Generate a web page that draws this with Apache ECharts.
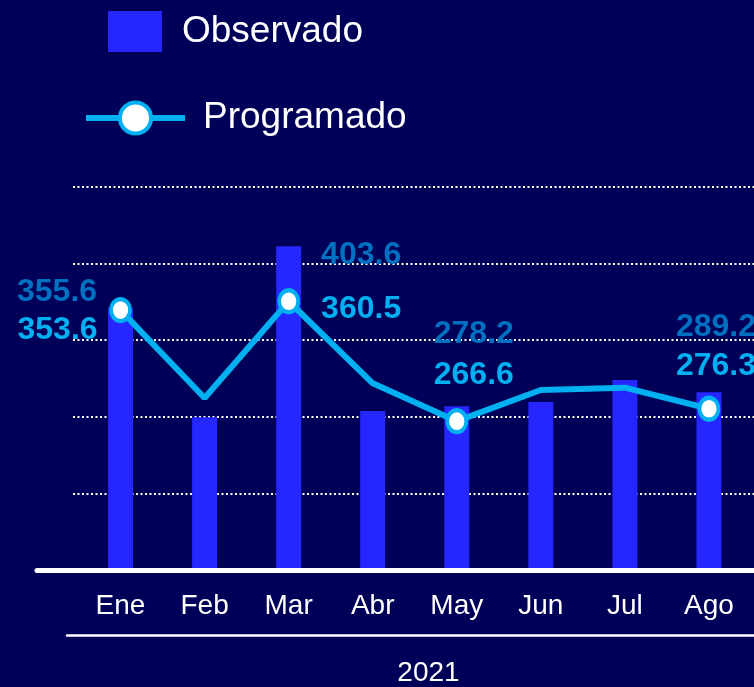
<!DOCTYPE html>
<html>
<head>
<meta charset="utf-8">
<script src="https://cdn.jsdelivr.net/npm/echarts@6/dist/echarts.min.js"></script>
<style>
  html, body { margin: 0; padding: 0; background: #000058; overflow: hidden; }
  #chart { width: 754px; height: 687px; }
</style>
</head>
<body>
<div id="chart"></div>
<script>
// data
const months = ["Ene", "Feb", "Mar", "Abr", "May", "Jun", "Jul", "Ago"];
const years = ["2021"];
const observado = [355.6, 269.6, 403.6, 274.5, 278.2, 281.6, 298.8, 289.2];
const programado = [353.6, 284.7, 360.5, 296.2, 266.6, 291.0, 292.8, 276.3];
const labelled = [0, 2, 4, 7]; // months that carry value labels
const axisMin = 150;
const axisMax = 450;
const axisStep = 60;

const font = '"Liberation Sans", Arial, sans-serif';
// where each value label sits (offset from the mark)
const obsOffset = { 0: [-63.5, 0.5], 2: [72.5, 24.5], 4: [17, -56], 7: [7, -49] };
const progOffset = { 0: [-63, 49.5], 2: [72.5, 37.5], 4: [17, -16.5], 7: [7, -13] };

const barData = observado.map((v, i) => ({
  value: v,
  label: labelled.includes(i) ? { show: true, offset: obsOffset[i] } : { show: false },
}));
const lineData = programado.map((v, i) => ({
  value: v,
  symbol: labelled.includes(i) ? "circle" : "none",
  label: labelled.includes(i) ? { show: true, offset: progOffset[i] } : { show: false },
}));

const myChart = echarts.init(document.getElementById("chart"));
const option = {
  backgroundColor: "#000058",
  animation: false,
  legend: [
    {
      data: ["Observado"],
      left: 108,
      top: 11,
      padding: 0,
      icon: "rect",
      itemWidth: 54,
      itemHeight: 41,
      selectedMode: false,
      textStyle: { color: "#fff", fontSize: 37, fontFamily: font, padding: [4, 0, 0, 15] },
    },
    {
      data: ["Programado"],
      left: 83,
      top: 99.5,
      padding: 0,
      itemWidth: 99,
      itemHeight: 39,
      selectedMode: false,
      lineStyle: { color: "#00B0F0", width: 6 },
      itemStyle: { color: "#fff", borderColor: "#00B0F0", borderWidth: 4 },
      textStyle: { color: "#fff", fontSize: 37, fontFamily: font, padding: [14, 0, 0, 13] },
    },
  ],
  grid: [
    { left: 78.5, right: 3, top: 187, bottom: 117 }, // bars + line
    { left: 73, right: 0, top: 187, bottom: 117 }, // dotted lines
    { left: 37, right: 0, top: 187, bottom: 117 }, // base line
    { left: 67, right: 0, top: 560, bottom: 47 }, // year
  ],
  xAxis: [
    {
      gridIndex: 0,
      type: "category",
      data: months,
      axisLine: { show: false },
      axisTick: { show: false },
      axisLabel: { color: "#fff", fontSize: 28, fontFamily: font, margin: 22 },
    },
    { gridIndex: 1, type: "category", data: months, show: false },
    {
      gridIndex: 2,
      type: "category",
      data: months,
      axisLine: { lineStyle: { color: "#fff", width: 5 } },
      axisTick: { show: false },
      axisLabel: { show: false },
      z: 10,
    },
    {
      gridIndex: 3,
      type: "category",
      data: years,
      axisLine: { lineStyle: { color: "#fff", width: 2.5 } },
      axisTick: { show: false },
      axisLabel: { color: "#fff", fontSize: 28, fontFamily: font, margin: 24, padding: [0, 0, 0, 36] },
    },
  ],
  yAxis: [
    { gridIndex: 0, type: "value", min: axisMin, max: axisMax, interval: axisStep, show: false },
    {
      gridIndex: 1,
      type: "value",
      min: axisMin,
      max: axisMax,
      interval: axisStep,
      axisLine: { show: false },
      axisTick: { show: false },
      axisLabel: { show: false },
      splitLine: { lineStyle: { color: "#fff", type: [2, 2.5], width: 2 } },
    },
    { gridIndex: 2, type: "value", min: axisMin, max: axisMax, show: false },
    { gridIndex: 3, type: "value", show: false },
  ],
  series: [
    {
      name: "Observado",
      type: "bar",
      xAxisIndex: 0,
      yAxisIndex: 0,
      barWidth: 25,
      itemStyle: { color: "#2626FF" },
      label: {
        position: "top",
        distance: 0,
        color: "#0070C0",
        fontSize: 32,
        fontWeight: "bold",
        fontFamily: font,
      },
      data: barData,
    },
    {
      name: "Programado",
      type: "line",
      xAxisIndex: 0,
      yAxisIndex: 0,
      symbol: "circle",
      symbolSize: [19, 22],
      z: 5,
      lineStyle: { color: "#00B0F0", width: 6 },
      itemStyle: { color: "#fff", borderColor: "#00B0F0", borderWidth: 4 },
      label: {
        position: "top",
        distance: 0,
        color: "#00B0F0",
        fontSize: 32,
        fontWeight: "bold",
        fontFamily: font,
      },
      data: lineData,
    },
  ],
};
myChart.setOption(option);
</script>
</body>
</html>
